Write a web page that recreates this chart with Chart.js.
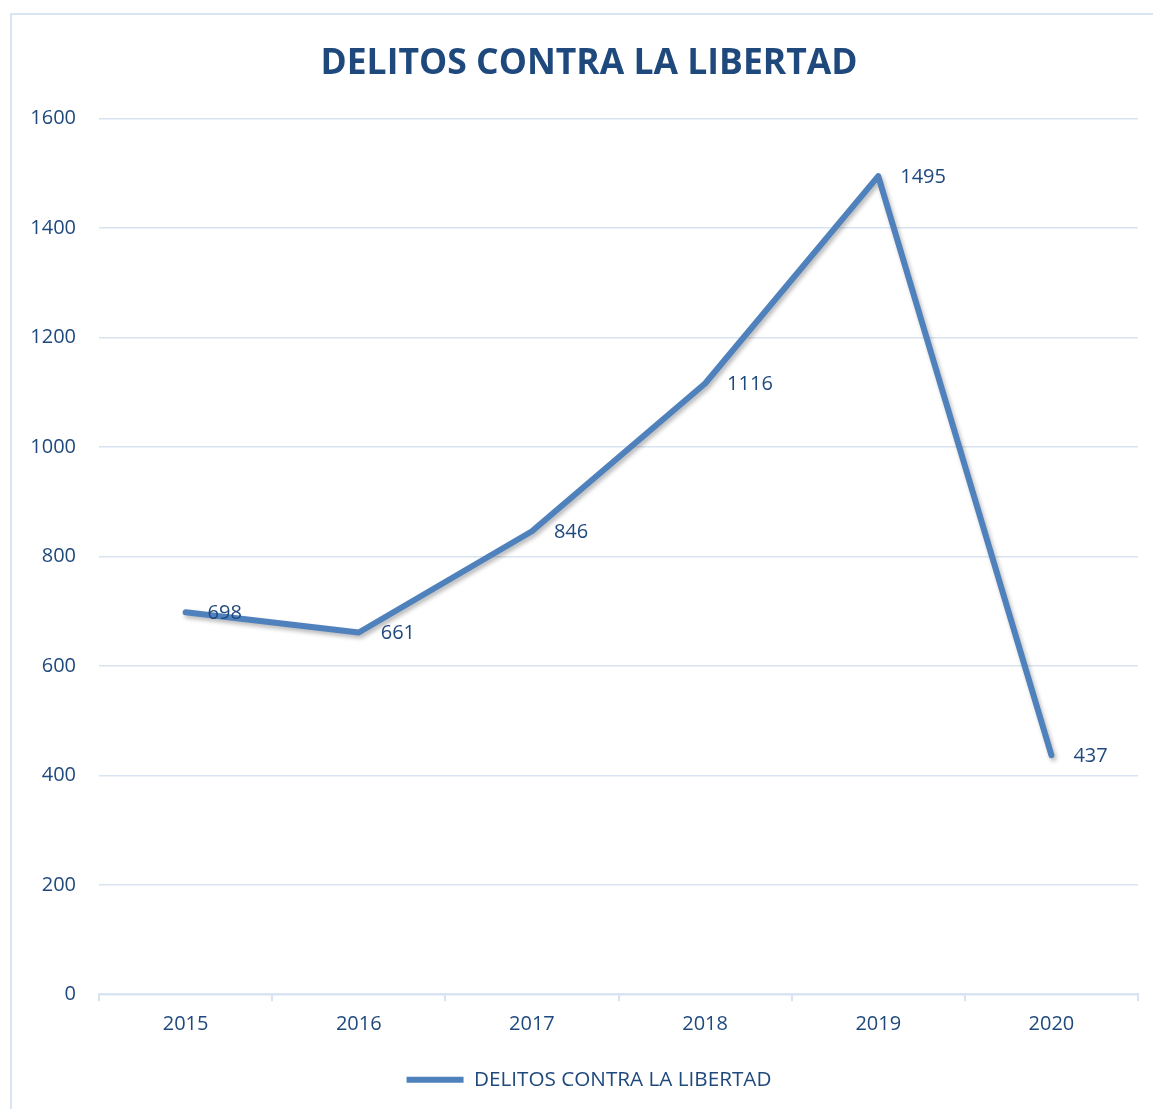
<!DOCTYPE html>
<html lang="es">
<head>
  <meta charset="UTF-8">
  <title>Delitos contra la libertad</title>
  <style>
    body {
      margin: 0;
      background: #ffffff;
    }
    #wrap {
      width: 1153px;
      height: 1109px;
    }
  </style>
</head>
<body>

<div id="wrap"><canvas id="delitosChart"></canvas></div>

<script src="https://cdn.jsdelivr.net/npm/chart.js"></script>
<script>
  // chart data
  const years = ['2015', '2016', '2017', '2018', '2019', '2020'];
  const delitos = [698, 661, 846, 1116, 1495, 437];
  const seriesName = 'DELITOS CONTRA LA LIBERTAD';
  const chartTitle = 'DELITOS CONTRA LA LIBERTAD';

  const textColor = '#1F497D';
  const lineColor = '#4F81BD';
  const gridColor = '#D9E4F2';
  const fontName = "'Open Sans', sans-serif";

  // outer frame of the chart
  const framePlugin = {
    id: 'frame',
    beforeDraw(chart) {
      const ctx = chart.ctx;
      ctx.save();
      ctx.fillStyle = '#ffffff';
      ctx.fillRect(0, 0, chart.width, chart.height);
      ctx.strokeStyle = '#DAE5F3';
      ctx.lineWidth = 2;
      ctx.strokeRect(11, 14, chart.width + 20, chart.height + 20);
      ctx.restore();
    }
  };

  // title and legend are centred on the frame, which runs past the right edge
  const centerOnFrame = {
    id: 'centerOnFrame',
    afterLayout(chart) {
      if (chart.titleBlock) chart.titleBlock.left += 40;
      if (chart.legend) chart.legend.left += 40;
    }
  };

  // soft shadow under the line
  const shadowPlugin = {
    id: 'lineShadow',
    beforeDatasetDraw(chart) {
      const ctx = chart.ctx;
      ctx.save();
      ctx.shadowColor = 'rgba(0, 0, 0, 0.28)';
      ctx.shadowBlur = 4;
      ctx.shadowOffsetX = 2;
      ctx.shadowOffsetY = 3;
    },
    afterDatasetDraw(chart) {
      chart.ctx.restore();
    }
  };

  // value labels to the right of each point
  const valueLabels = {
    id: 'valueLabels',
    afterDatasetsDraw(chart) {
      const ctx = chart.ctx;
      const meta = chart.getDatasetMeta(0);
      const values = chart.data.datasets[0].data;
      ctx.save();
      ctx.font = '20px ' + fontName;
      ctx.fillStyle = textColor;
      ctx.textAlign = 'left';
      ctx.textBaseline = 'middle';
      meta.data.forEach((pt, i) => {
        ctx.fillText(String(values[i]), pt.x + 22, pt.y + 1);
      });
      ctx.restore();
    }
  };

  const ctx = document.getElementById('delitosChart').getContext('2d');
  new Chart(ctx, {
    type: 'line',
    data: {
      labels: years,
      datasets: [{
        label: seriesName,
        data: delitos,
        borderColor: lineColor,
        backgroundColor: lineColor,
        borderWidth: 6,
        borderCapStyle: 'round',
        borderJoinStyle: 'round',
        pointRadius: 0,
        pointHoverRadius: 0,
        tension: 0,
        fill: false
      }]
    },
    options: {
      responsive: true,
      maintainAspectRatio: false,
      animation: false,
      layout: {
        padding: { top: 43, left: 0, right: 15, bottom: 9 }
      },
      plugins: {
        title: {
          display: true,
          text: chartTitle,
          color: textColor,
          font: { family: fontName, size: 35.5, weight: 'bold' },
          padding: { top: 0, bottom: 33 }
        },
        legend: {
          position: 'bottom',
          labels: {
            color: textColor,
            font: { family: fontName, size: 20.7 },
            usePointStyle: true,
            pointStyle: 'line',
            pointStyleWidth: 57,
            padding: 22
          }
        },
        tooltip: { enabled: false }
      },
      scales: {
        x: {
          offset: true,
          grid: {
            offset: true,
            drawOnChartArea: false,
            drawTicks: true,
            tickLength: 7,
            color: gridColor,
            lineWidth: 2
          },
          border: { color: gridColor, width: 2 },
          ticks: {
            color: textColor,
            font: { family: fontName, size: 20 },
            padding: 11
          }
        },
        y: {
          min: 0,
          max: 1600,
          afterFit(scale) {
            scale.width = 99;
          },
          grid: {
            color: gridColor,
            lineWidth: 1.5,
            drawTicks: false
          },
          border: { display: false },
          ticks: {
            stepSize: 200,
            color: textColor,
            font: { family: fontName, size: 20 },
            padding: 23,
            callback: (value) => String(value)
          }
        }
      }
    },
    plugins: [framePlugin, centerOnFrame, shadowPlugin, valueLabels]
  });
</script>

</body>
</html>
